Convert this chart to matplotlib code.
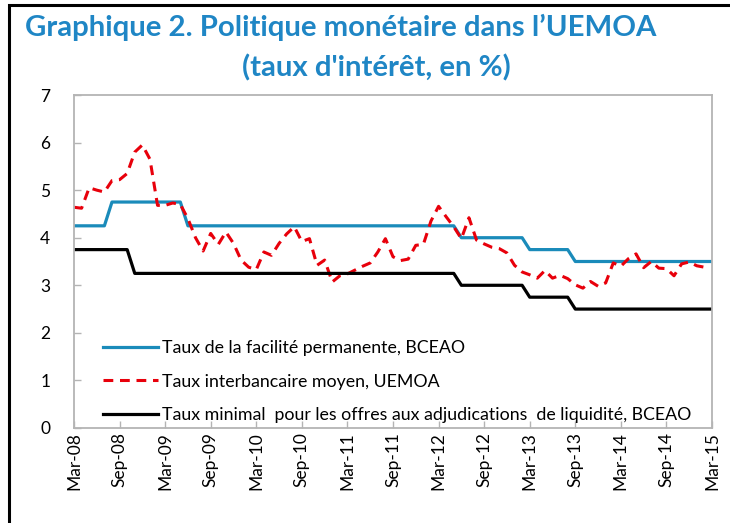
import numpy as np
import matplotlib
matplotlib.use("Agg")
import matplotlib.pyplot as plt
from matplotlib.patches import Rectangle

# monthly, Mar-08 .. Mar-15
facilite = ([4.25] * 5 + [4.75] * 10 + [4.25] * 36 + [4.00] * 9
            + [3.75] * 6 + [3.50] * 19)
minimal = ([3.75] * 8 + [3.25] * 43 + [3.00] * 9 + [2.75] * 6 + [2.50] * 19)
interbancaire = [
    4.64, 4.62, 5.05, 5.00, 4.96, 5.20, 5.22, 5.35, 5.80, 5.95,
    5.65, 4.68, 4.68, 4.73, 4.70, 4.40, 4.00, 3.72, 4.09, 3.86,
    4.12, 3.88, 3.53, 3.38, 3.33, 3.70, 3.63, 3.88, 4.08, 4.23,
    3.92, 3.98, 3.42, 3.53, 3.07, 3.20, 3.24, 3.32, 3.40, 3.47,
    3.70, 3.98, 3.60, 3.52, 3.55, 3.84, 3.86, 4.35, 4.66, 4.44,
    4.23, 3.98, 4.42, 3.95, 3.87, 3.80, 3.77, 3.68, 3.42, 3.28,
    3.22, 3.15, 3.31, 3.15, 3.21, 3.14, 3.01, 2.94, 3.08, 2.98,
    3.05, 3.47, 3.40, 3.56, 3.66, 3.37, 3.50, 3.36, 3.35, 3.20,
    3.45, 3.49, 3.41, 3.38, np.nan]
tick_labels = ["Mar-08", "Sep-08", "Mar-09", "Sep-09", "Mar-10", "Sep-10",
               "Mar-11", "Sep-11", "Mar-12", "Sep-12", "Mar-13", "Sep-13",
               "Mar-14", "Sep-14", "Mar-15"]
noms = ["Taux de la facilité permanente, BCEAO",
        "Taux interbancaire moyen, UEMOA",
        "Taux minimal  pour les offres aux adjudications  de liquidité, BCEAO"]

plt.rcParams["font.family"] = ["Lato", "DejaVu Sans"]

months = np.arange(len(facilite))

fig = plt.figure(figsize=(7.30, 5.23), dpi=100)
ax = fig.add_axes([74 / 730, 1 - 428 / 523, 638 / 730, 333 / 523])

ax.plot(months, facilite, color="#1a8bba", lw=2.3, label=noms[0])
ax.plot(months, interbancaire, color="#e8000b", lw=2.2,
        linestyle=(0, (3.2, 2.2)), label=noms[1])
ax.plot(months, minimal, color="black", lw=2.3, label=noms[2])

ax.set_xlim(0, 84)
ax.set_ylim(0, 7)
ax.set_yticks(range(8))
ax.set_xticks(np.arange(0, 85, 6))
ax.set_xticklabels(tick_labels, rotation=90)

for s in ax.spines.values():
    s.set_color("#b4b4b4")
    s.set_linewidth(1.3)
ax.tick_params(axis="both", direction="in", length=5, color="#b4b4b4",
               width=1, labelsize=12.5)
ax.tick_params(axis="y", pad=17)
ax.tick_params(axis="x", pad=3)

leg = ax.legend(loc="upper left", bbox_to_anchor=(0.045, 0.265), frameon=False,
                fontsize=12.8, handlelength=3.1, handletextpad=0.25,
                labelspacing=1.0, borderpad=0, borderaxespad=0)

titre = "#1f86c5"
fig.text(341 / 730, 1 - 36 / 523, "Graphique 2. Politique monétaire dans l’UEMOA",
         ha="center", va="baseline", fontsize=21.2, fontweight="bold", color=titre)
fig.text(376 / 730, 1 - 76 / 523, "(taux d'intérêt, en %)",
         ha="center", va="baseline", fontsize=21.2, fontweight="bold", color=titre)

# cadre noir (coin supérieur gauche)
fig.add_artist(Rectangle((9 / 730, -0.2), 1.2, 1.2 - 5 / 523,
                         transform=fig.transFigure, fill=False,
                         edgecolor="black", lw=2.2, clip_on=False))

fig.savefig("out.png", dpi=100)
